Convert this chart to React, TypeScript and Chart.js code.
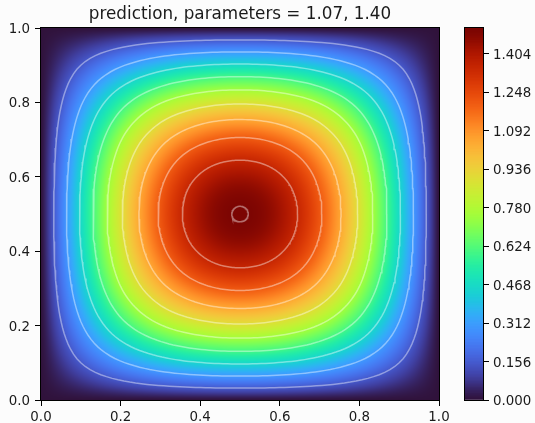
import React, { useEffect, useRef } from "react";
import { Chart, registerables } from "chart.js";

Chart.register(...registerables);

const TITLE = "prediction, parameters = 1.07, 1.40";
const VMAX = 1.508;
const GRID_STEP = 0.05;
const AXIS_TICKS = [0, 0.2, 0.4, 0.6, 0.8, 1];
const COLORBAR_TICKS = [0, 0.156, 0.312, 0.468, 0.624, 0.78, 0.936, 1.092, 1.248, 1.404];
const CONTOUR_LEVELS = [0.15, 0.3, 0.45, 0.6, 0.75, 0.9, 1.05, 1.2, 1.35, 1.5];
const TURBO = ["#30123b", "#4145ab", "#4675ed", "#39a2fc", "#1bcfd4", "#24eca6", "#61fc6c", "#a4fc3b", "#d1e834", "#f3c63a", "#fe9b2d", "#f36315", "#d93806", "#b11901", "#7a0402"];

const FIELD: number[][] = [
  [0, 0, 0, 0, 0, 0, 0, 0, 0, 0, 0, 0, 0, 0, 0, 0, 0, 0, 0, 0, 0],
  [0, .038, .074, .109, .142, .171, .194, .212, .224, .232, .234, .232, .224, .212, .194, .171, .142, .109, .074, .038, 0],
  [0, .074, .150, .222, .287, .342, .388, .423, .446, .460, .464, .460, .446, .423, .388, .342, .287, .222, .150, .074, 0],
  [0, .109, .222, .329, .425, .507, .573, .623, .657, .676, .682, .676, .657, .623, .573, .507, .425, .329, .222, .109, 0],
  [0, .142, .287, .425, .551, .656, .742, .805, .849, .875, .884, .875, .849, .805, .742, .656, .551, .425, .287, .142, 0],
  [0, .171, .342, .507, .656, .783, .888, .966, 1.021, 1.053, 1.063, 1.053, 1.021, .966, .888, .783, .656, .507, .342, .171, 0],
  [0, .194, .388, .573, .742, .888, 1.008, 1.099, 1.164, 1.203, 1.216, 1.203, 1.164, 1.099, 1.008, .888, .742, .573, .388, .194, 0],
  [0, .212, .423, .623, .805, .966, 1.099, 1.204, 1.280, 1.324, 1.339, 1.324, 1.280, 1.204, 1.099, .966, .805, .623, .423, .212, 0],
  [0, .224, .446, .657, .849, 1.021, 1.164, 1.280, 1.362, 1.413, 1.429, 1.413, 1.362, 1.280, 1.164, 1.021, .849, .657, .446, .224, 0],
  [0, .232, .460, .676, .875, 1.053, 1.203, 1.324, 1.413, 1.467, 1.485, 1.467, 1.413, 1.324, 1.203, 1.053, .875, .676, .460, .232, 0],
  [0, .234, .464, .682, .884, 1.063, 1.216, 1.339, 1.429, 1.485, 1.503, 1.485, 1.429, 1.339, 1.216, 1.063, .884, .682, .464, .234, 0],
  [0, .232, .460, .676, .875, 1.053, 1.203, 1.324, 1.413, 1.467, 1.485, 1.467, 1.413, 1.324, 1.203, 1.053, .875, .676, .460, .232, 0],
  [0, .224, .446, .657, .849, 1.021, 1.164, 1.280, 1.362, 1.413, 1.429, 1.413, 1.362, 1.280, 1.164, 1.021, .849, .657, .446, .224, 0],
  [0, .212, .423, .623, .805, .966, 1.099, 1.204, 1.280, 1.324, 1.339, 1.324, 1.280, 1.204, 1.099, .966, .805, .623, .423, .212, 0],
  [0, .194, .388, .573, .742, .888, 1.008, 1.099, 1.164, 1.203, 1.216, 1.203, 1.164, 1.099, 1.008, .888, .742, .573, .388, .194, 0],
  [0, .171, .342, .507, .656, .783, .888, .966, 1.021, 1.053, 1.063, 1.053, 1.021, .966, .888, .783, .656, .507, .342, .171, 0],
  [0, .142, .287, .425, .551, .656, .742, .805, .849, .875, .884, .875, .849, .805, .742, .656, .551, .425, .287, .142, 0],
  [0, .109, .222, .329, .425, .507, .573, .623, .657, .676, .682, .676, .657, .623, .573, .507, .425, .329, .222, .109, 0],
  [0, .074, .150, .222, .287, .342, .388, .423, .446, .460, .464, .460, .446, .423, .388, .342, .287, .222, .150, .074, 0],
  [0, .038, .074, .109, .142, .171, .194, .212, .224, .232, .234, .232, .224, .212, .194, .171, .142, .109, .074, .038, 0],
  [0, 0, 0, 0, 0, 0, 0, 0, 0, 0, 0, 0, 0, 0, 0, 0, 0, 0, 0, 0, 0],
];

const FONT = "'DejaVu Sans'";
const TEXT = "#1a1a1a";
const STOPS = TURBO.map((h) => [1, 3, 5].map((i) => parseInt(h.slice(i, i + 2), 16)));

function cr(a: number, b: number, c: number, d: number, t: number) {
  return 0.5 * (2 * b + (c - a) * t + (2 * a - 5 * b + 4 * c - d) * t * t + (3 * b - a - 3 * c + d) * t * t * t);
}

// Colour map with a smooth curve through its stops, so no crease shows up as a ring in the shading.
function turbo(t: number): number[] {
  const last = STOPS.length - 1;
  const p = Math.max(0, Math.min(1, t)) * last;
  const i = Math.min(last - 1, Math.floor(p));
  const f = p - i;
  const A = STOPS[Math.max(0, i - 1)];
  const B = STOPS[i];
  const C = STOPS[i + 1];
  const D = STOPS[Math.min(last, i + 2)];
  return B.map((_, k) => Math.max(0, Math.min(255, cr(A[k], B[k], C[k], D[k], f))));
}

// Table value with odd reflection past the zero-valued edge, so shading keeps its slope there.
function at(i: number, j: number): number {
  const n = FIELD.length - 1;
  let sign = 1;
  if (i < 0) { i = -i; sign = -sign; }
  if (i > n) { i = 2 * n - i; sign = -sign; }
  if (j < 0) { j = -j; sign = -sign; }
  if (j > n) { j = 2 * n - j; sign = -sign; }
  return sign * FIELD[i][j];
}

// Smooth look-up in the value table, the way imshow shades between samples.
function sample(x: number, y: number): number {
  const n = FIELD.length;
  const gx = Math.max(0, Math.min(n - 1, x / GRID_STEP));
  const gy = Math.max(0, Math.min(n - 1, y / GRID_STEP));
  const ix = Math.min(n - 2, Math.floor(gx));
  const iy = Math.min(n - 2, Math.floor(gy));
  const col = [-1, 0, 1, 2].map((dy) =>
    cr(at(iy + dy, ix - 1), at(iy + dy, ix), at(iy + dy, ix + 1), at(iy + dy, ix + 2), gx - ix)
  );
  return cr(col[0], col[1], col[2], col[3], gy - iy);
}

// Contour lines are found in the value table itself, walking out from the peak.
function contour(level: number) {
  const pts: { x: number; y: number }[] = [];
  const count = 240;
  for (let k = 0; k <= count; k++) {
    const a = (k / count) * Math.PI * 2;
    const dx = Math.cos(a);
    const dy = Math.sin(a);
    let lo = 0;
    let hi = 0.5 / Math.max(Math.abs(dx), Math.abs(dy));
    for (let s = 0; s < 30; s++) {
      const m = (lo + hi) / 2;
      if (sample(0.5 + dx * m, 0.5 + dy * m) > level) lo = m;
      else hi = m;
    }
    pts.push({ x: 0.5 + dx * lo, y: 0.5 + dy * lo });
  }
  return pts;
}

const frame = {
  id: "frame",
  afterDraw(chart: any) {
    const { ctx, chartArea: a } = chart;
    ctx.save();
    ctx.strokeStyle = "#000";
    ctx.lineWidth = 1;
    ctx.strokeRect(Math.round(a.left) - 0.5, Math.round(a.top) - 0.5, Math.round(a.width) + 1, Math.round(a.height) + 1);
    ctx.restore();
  },
};

const heat = {
  id: "heat",
  beforeDatasetsDraw(chart: any) {
    const { ctx, chartArea: a, scales } = chart;
    const w = Math.round(a.width);
    const h = Math.round(a.height);
    const off = document.createElement("canvas");
    off.width = w;
    off.height = h;
    const octx = off.getContext("2d")!;
    const img = octx.createImageData(w, h);
    for (let py = 0; py < h; py++) {
      const vy = scales.y.getValueForPixel(a.top + py + 0.5);
      for (let px = 0; px < w; px++) {
        const vx = scales.x.getValueForPixel(a.left + px + 0.5);
        const c = turbo(sample(vx, vy) / VMAX);
        const o = (py * w + px) * 4;
        img.data[o] = c[0];
        img.data[o + 1] = c[1];
        img.data[o + 2] = c[2];
        img.data[o + 3] = 255;
      }
    }
    octx.putImageData(img, 0, 0);
    ctx.drawImage(off, Math.round(a.left), Math.round(a.top));
  },
};

const tickFont = { family: FONT, size: 13.4 };

export default function App() {
  const mainRef = useRef<HTMLCanvasElement>(null);
  const barRef = useRef<HTMLCanvasElement>(null);

  useEffect(() => {
    document.body.style.margin = "0";
    document.body.style.background = "#fcfcfc";

    const main = new Chart(mainRef.current!, {
      type: "scatter",
      data: {
        datasets: CONTOUR_LEVELS.map((l) => ({
          label: String(l),
          data: contour(l),
          showLine: true,
          pointRadius: 0,
          borderColor: "rgba(255,255,255,0.42)",
          borderWidth: 1.5,
          tension: 0,
        })),
      },
      plugins: [heat, frame],
      options: {
        animation: false,
        responsive: false,
        layout: { padding: { left: 0, right: 96, top: 0, bottom: 0 } },
        plugins: {
          legend: { display: false },
          tooltip: { enabled: false },
          title: {
            display: true,
            text: TITLE,
            fullSize: false,
            color: TEXT,
            font: { family: FONT, size: 16.8, weight: "normal", lineHeight: 1.2 },
            padding: { top: 5, bottom: 2.84 },
          },
        },
        scales: {
          x: {
            type: "linear",
            min: 0,
            max: 1,
            afterFit: (s: any) => { s.height = 23; },
            afterBuildTicks: (s: any) => { s.ticks = AXIS_TICKS.map((value) => ({ value })); },
            grid: { drawOnChartArea: false, tickLength: 6, color: "#000" },
            border: { color: "#000" },
            ticks: { color: TEXT, font: tickFont, maxRotation: 0, padding: 3, callback: (v: any) => Number(v).toFixed(1) },
          },
          y: {
            type: "linear",
            min: 0,
            max: 1,
            afterFit: (s: any) => { s.width = 41; },
            afterBuildTicks: (s: any) => { s.ticks = AXIS_TICKS.map((value) => ({ value })); },
            grid: { drawOnChartArea: false, tickLength: 6, color: "#000" },
            border: { color: "#000" },
            ticks: { color: TEXT, font: tickFont, padding: 5, labelOffset: 1.5, callback: (v: any) => Number(v).toFixed(1) },
          },
        },
      },
    } as any);

    const levelCount = 256;
    const bar = new Chart(barRef.current!, {
      type: "bar",
      data: {
        labels: [""],
        datasets: Array.from({ length: levelCount }, (_, i) => {
          const lo = (i / levelCount) * VMAX;
          const hi = ((i + 1.6) / levelCount) * VMAX;
          const c = turbo((i + 0.5) / levelCount);
          return {
            label: String(i),
            data: [[lo, Math.min(hi, VMAX)]],
            backgroundColor: `rgb(${c[0]},${c[1]},${c[2]})`,
            borderWidth: 0,
            barPercentage: 1,
            categoryPercentage: 1,
            grouped: false,
            order: levelCount - i,
          };
        }),
      },
      plugins: [frame],
      options: {
        animation: false,
        responsive: false,
        layout: { padding: { left: 465, right: 0, top: 28, bottom: 23 } },
        plugins: { legend: { display: false }, tooltip: { enabled: false } },
        scales: {
          x: { display: false },
          y: {
            position: "right",
            min: 0,
            max: VMAX,
            afterFit: (s: any) => { s.width = 52; },
            afterBuildTicks: (s: any) => { s.ticks = COLORBAR_TICKS.map((value) => ({ value })); },
            grid: { drawOnChartArea: false, tickLength: 6, color: "#000" },
            border: { color: "#000" },
            ticks: { color: TEXT, font: tickFont, padding: 4, labelOffset: 1.5, callback: (v: any) => Number(v).toFixed(3) },
          },
        },
      },
    } as any);

    return () => {
      main.destroy();
      bar.destroy();
    };
  }, []);

  return (
    <div style={{ position: "relative", width: 535, height: 423, overflow: "hidden" }}>
      <canvas ref={mainRef} width={535} height={423} style={{ position: "absolute", left: 0, top: 0 }} />
      <canvas ref={barRef} width={535} height={423} style={{ position: "absolute", left: 0, top: 0 }} />
    </div>
  );
}
